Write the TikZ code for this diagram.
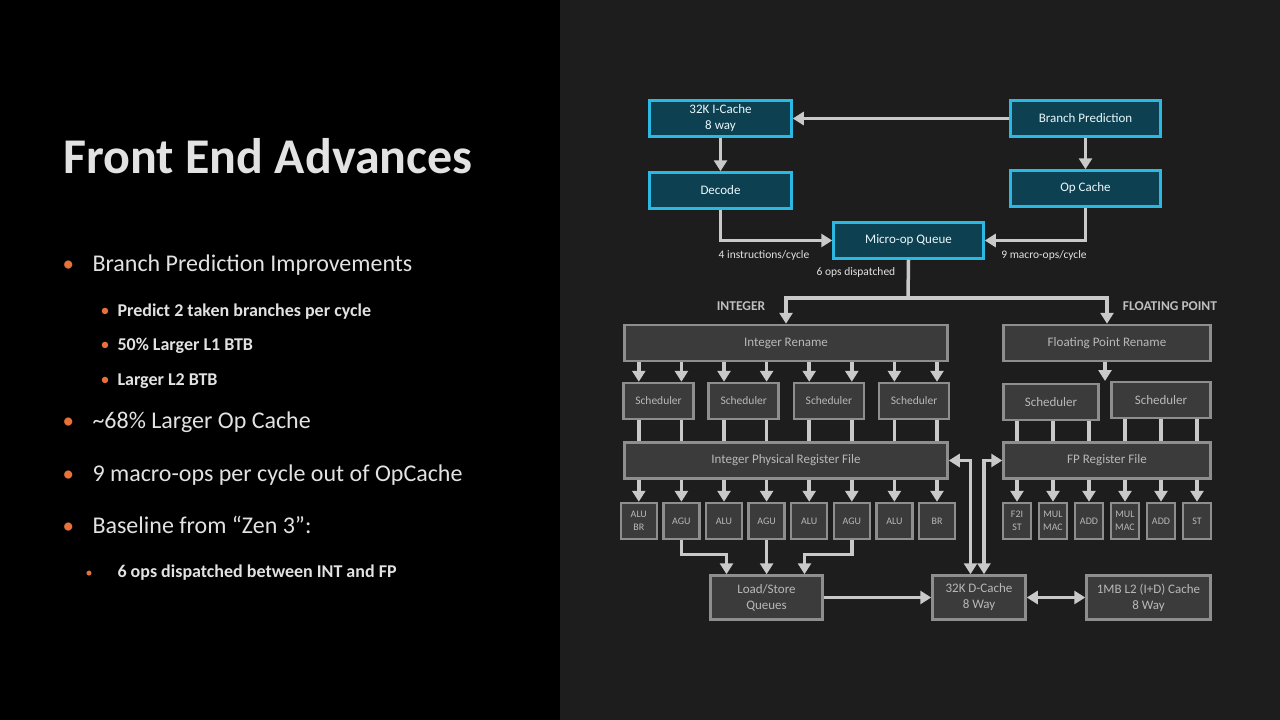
\documentclass[tikz,border=0pt]{standalone}
\usepackage{fontspec}
\setmainfont{Carlito}
\usetikzlibrary{arrows.meta,calc}

\definecolor{leftbg}{HTML}{000000}
\definecolor{rightbg}{HTML}{1D1D1D}
\definecolor{feblue}{HTML}{2BB8E3}
\definecolor{fefill}{HTML}{0D4050}
\definecolor{exfill}{HTML}{3B3B3B}
\definecolor{exline}{HTML}{8E8E8E}
\definecolor{extext}{HTML}{B8B8B8}
\definecolor{flowgray}{HTML}{C9C9C9}
\definecolor{dotorange}{HTML}{E8713A}
\definecolor{slidetext}{HTML}{E2E2E2}

\tikzset{
  feblock/.style={draw=feblue, line width=2.5pt, fill=fefill, text=white!90!feblue,
    align=center, inner sep=0pt, font=\fontsize{13}{16}\selectfont},
  exblock/.style={draw=exline, line width=2.5pt, fill=exfill, text=extext,
    align=center, inner sep=0pt, font=\fontsize{13}{16}\selectfont},
  unitblock/.style={exblock, minimum height=36pt, font=\fontsize{10}{13}\selectfont},
  flow/.style={draw=flowgray, line width=3.5pt, -{Triangle[length=11pt,width=13pt]}},
  flowline/.style={draw=flowgray, line width=3.5pt},
  bothflow/.style={draw=flowgray, line width=3.5pt,
    {Triangle[length=11pt,width=13pt]}-{Triangle[length=11pt,width=13pt]}},
  rate/.style={text=slidetext, font=\fontsize{11.5}{13}\selectfont},
  side/.style={text=extext!90!white, font=\bfseries\fontsize{13.5}{15}\selectfont},
  mainitem/.style={anchor=base west, text=slidetext, font=\fontsize{24}{28}\selectfont},
  subitem/.style={anchor=base west, text=slidetext, font=\bfseries\fontsize{18}{22}\selectfont},
  dot/.style={anchor=base west, text=dotorange},
}

\begin{document}
\begin{tikzpicture}[x=1pt,y=-1pt]
  \useasboundingbox (0,0) rectangle (1280,720);
  \fill[leftbg] (0,0) rectangle (560,720);
  \fill[rightbg] (560,0) rectangle (1280,720);

  % slide text
  \node[anchor=base west, text=slidetext, font=\bfseries\fontsize{50}{56}\selectfont] (title) at (60,173) {Front End Advances};
  \node[dot, font=\fontsize{23}{27}\selectfont] (d1) at (59,271.7) {•};
  \node[mainitem] (bpi) at (89,271.7) {Branch Prediction Improvements};
  \node[dot, font=\fontsize{18}{22}\selectfont] (d2) at (97,316.7) {•};
  \node[subitem] (two) at (114,316.7) {Predict 2 taken branches per cycle};
  \node[dot, font=\fontsize{18}{22}\selectfont] (d3) at (97,350.7) {•};
  \node[subitem] (lbtb) at (114,350.7) {50\% Larger L1 BTB};
  \node[dot, font=\fontsize{18}{22}\selectfont] (d4) at (97,385.7) {•};
  \node[subitem] (ltwo) at (114,385.7) {Larger L2 BTB};
  \node[dot, font=\fontsize{23}{27}\selectfont] (d5) at (59,428) {•};
  \node[mainitem] (opc68) at (89,428) {\textasciitilde68\% Larger Op Cache};
  \node[dot, font=\fontsize{23}{27}\selectfont] (d6) at (59,481.7) {•};
  \node[mainitem] (nine) at (89,481.7) {9 macro-ops per cycle out of OpCache};
  \node[dot, font=\fontsize{23}{27}\selectfont] (d7) at (59,533) {•};
  \node[mainitem] (zen) at (89,533) {Baseline from “Zen 3”:};
  \node[dot, font=\fontsize{14}{16}\selectfont] (d8) at (82,577) {•};
  \node[subitem] (six) at (114,577) {6 ops dispatched between INT and FP};

  % front end
  \node[feblock, minimum width=142pt, minimum height=36pt] (icache) at (720.5,118.5) {32K I-Cache\\8 way};
  \node[feblock, minimum width=150pt, minimum height=36pt] (bp) at (1085.5,118.5) {Branch Prediction};
  \node[feblock, minimum width=142pt, minimum height=36pt] (decode) at (720.5,190.5) {Decode};
  \node[feblock, minimum width=150pt, minimum height=36pt] (opcache) at (1085.5,188.5) {Op Cache};
  \node[feblock, minimum width=150pt, minimum height=36pt] (muq) at (908.5,240.5) {Micro-op Queue};

  \draw[flow] (bp.west) -- (icache.east);
  \draw[flow] (icache.south) -- (decode.north);
  \draw[flow] (bp.south) -- (opcache.north);
  \draw[flow] (decode.south) |- (muq.west);
  \draw[flow] (opcache.south) |- (muq.east);

  \node[rate] (irate) at (764,255) {4 instructions/cycle};
  \node[rate] (mrate) at (1044,255) {9 macro-ops/cycle};
  \node[rate] (drate) at (856,272.5) {6 ops dispatched};

  % integer and floating point
  \node[exblock, minimum width=323pt, minimum height=36pt] (iren) at (786,343) {Integer Rename};
  \node[exblock, minimum width=207pt, minimum height=36pt] (fren) at (1107,343) {Floating Point Rename};
  \node[side] (intlabel) at (741,306) {INTEGER};
  \node[side] (fplabel) at (1170,306) {FLOATING POINT};

  \coordinate (split) at (908,298);
  \draw[flowline] (muq.south) -- (split);
  \draw[flow] (split) -| (iren.north);
  \draw[flow] (split) -| (fren.north);

  \foreach \i/\t in {1/{ALU\\BR},2/AGU,3/ALU,4/AGU,5/ALU,6/AGU,7/ALU,8/BR}
    \node[unitblock, minimum width=36pt] (iu\i) at ({638.8+42.6*(\i-1)},521) {\t};
  \foreach \i/\t in {1/{F2I\\ST},2/{MUL\\MAC},3/ADD,4/{MUL\\MAC},5/ADD,6/ST}
    \node[unitblock, minimum width=28pt] (fu\i) at ({1017+36*(\i-1)},521) {\t};

  \foreach \j in {1,...,4}
    \node[exblock, minimum width=70pt, minimum height=36pt, font=\fontsize{11.5}{13}\selectfont] (isch\j) at ({658.5+85.2*(\j-1)},401) {Scheduler};
  \node[exblock, minimum width=95pt, minimum height=36pt] (fsch1) at (1051,402) {Scheduler};
  \node[exblock, minimum width=99pt, minimum height=36pt] (fsch2) at (1161,400) {Scheduler};

  \node[exblock, minimum width=323pt, minimum height=36pt] (iprf) at (786,460.5) {Integer Physical Register File};
  \node[exblock, minimum width=207pt, minimum height=36pt] (fprf) at (1107,460.5) {FP Register File};

  \foreach \j in {1,...,4} {
    \pgfmathtruncatemacro\ua{2*\j-1}
    \pgfmathtruncatemacro\ub{2*\j}
    \foreach \u in {\ua,\ub} {
      \draw[flow] (iren.south -| iu\u) -- (isch\j.north -| iu\u);
      \draw[flowline] (isch\j.south -| iu\u) -- (iprf.north -| iu\u);
    }
  }
  \foreach \u in {1,...,8}
    \draw[flow] (iprf.south -| iu\u) -- (iu\u.north);

  \coordinate (fgap) at (1105,381);
  \draw[flow] (fren.south -| fgap) -- (fgap);
  \foreach \u in {1,2,3}
    \draw[flowline] (fsch1.south -| fu\u) -- (fprf.north -| fu\u);
  \foreach \u in {4,5,6}
    \draw[flowline] (fsch2.south -| fu\u) -- (fprf.north -| fu\u);
  \foreach \u in {1,...,6}
    \draw[flow] (fprf.south -| fu\u) -- (fu\u.north);

  % load/store and caches
  \node[exblock, minimum width=112pt, minimum height=44pt] (lsq) at (766.5,597.5) {Load/Store\\Queues};
  \node[exblock, minimum width=93pt, minimum height=44pt] (dcache) at (979,597.5) {32K D-Cache\\8 Way};
  \node[exblock, minimum width=124pt, minimum height=44pt] (ltwo) at (1148.5,597.5) {1MB L2 (I+D) Cache\\8 Way};

  \draw[flow] (iu2.south) -- ++(0,14) -| ([xshift=-40pt]lsq.north);
  \draw[flow] (iu4.south) -- (iu4.south |- lsq.north);
  \draw[flow] (iu6.south) -- ++(0,14) -| ([xshift=38pt]lsq.north);
  \draw[flow] (lsq.east) -- (dcache.west);
  \draw[bothflow] (dcache.east) -- (ltwo.west);
  \draw[bothflow] (iprf.east) -| ([xshift=-8.5pt]dcache.north);
  \draw[bothflow] (fprf.west) -| ([xshift=5pt]dcache.north);
\end{tikzpicture}
\end{document}
